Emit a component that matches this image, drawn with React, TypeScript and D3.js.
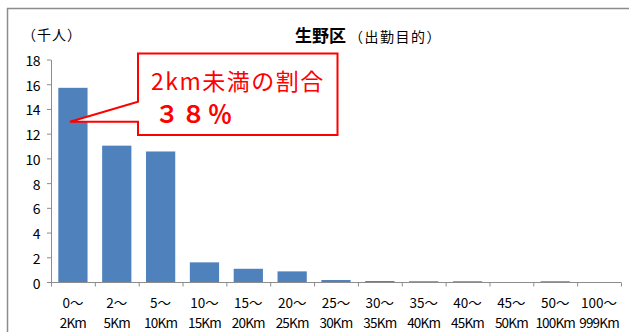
import React from "react";
import * as d3 from "d3";

const catLine1 = ["0～", "2～", "5～", "10～", "15～", "20～", "25～", "30～", "35～", "40～", "45～", "50～", "100～"];
const catLine2 = ["2Km", "5Km", "10Km", "15Km", "20Km", "25Km", "30Km", "35Km", "40Km", "45Km", "50Km", "100Km", "999Km"];
const values = [15.75, 11.07, 10.6, 1.63, 1.11, 0.9, 0.2, 0.12, 0.1, 0.1, 0, 0.1, 0];
const yTicks = [0, 2, 4, 6, 8, 10, 12, 14, 16, 18];

const W = 629;
const H = 332;
const FONT = "'Noto Sans CJK JP', 'Noto Sans', sans-serif";

export default function App() {
  const x = d3
    .scaleBand<number>()
    .domain(d3.range(values.length))
    .range([51, 621])
    .paddingInner(0.333)
    .paddingOuter(0.1665);
  const y = d3.scaleLinear().domain([0, 18]).range([282.5, 60]);
  const step = x.step();
  const x0 = 51;
  const axisColor = "#8c8c8c";

  const calloutPath = d3.path();
  calloutPath.moveTo(138, 53.5);
  calloutPath.lineTo(337.5, 53.5);
  calloutPath.lineTo(337.5, 135);
  calloutPath.lineTo(138, 135);
  calloutPath.lineTo(138, 121.7);
  calloutPath.lineTo(70, 121.7);
  calloutPath.lineTo(138, 101.7);
  calloutPath.closePath();

  return (
    <svg
      width={W}
      height={H}
      style={{ position: "absolute", left: 0, top: 0, background: "#fff" }}
      fontFamily={FONT}
    >
      <rect x={0} y={0} width={W} height={H} fill="#fff" />
      {/* frame */}
      <line x1={7} y1={8.5} x2={W} y2={8.5} stroke="#8c8c8c" strokeWidth={1.5} />
      <line x1={7.5} y1={8} x2={7.5} y2={H} stroke="#8c8c8c" strokeWidth={1.5} />

      {/* titles */}
      <text x={22} y={34} fontSize={14} dominantBaseline="central" fill="#000" letterSpacing={1}>（千人）</text>
      <text x={295} y={34} fontSize={17} fontWeight="bold" dominantBaseline="central" fill="#000">生野区</text>
      <text x={349} y={36} fontSize={14} dominantBaseline="central" fill="#000" letterSpacing={1.5}>（出勤目的）</text>

      {/* bars */}
      {values.map((v, i) => (
        <rect
          key={i}
          x={x(i)}
          y={y(v)}
          width={x.bandwidth()}
          height={y(0) - y(v)}
          fill="#4f81bd"
        />
      ))}

      {/* y axis */}
      <line x1={x0 + 0.5} y1={y(18)} x2={x0 + 0.5} y2={y(0)} stroke={axisColor} />
      {yTicks.map((t) => (
        <g key={t}>
          <line x1={x0 - 4} y1={y(t)} x2={x0} y2={y(t)} stroke={axisColor} />
          <text x={40} y={y(t)} fontSize={14} textAnchor="end" dominantBaseline="central" fill="#000" letterSpacing={-0.5}>
            {t}
          </text>
        </g>
      ))}

      {/* x axis */}
      <line x1={x0} y1={y(0)} x2={621} y2={y(0)} stroke={axisColor} />
      {d3.range(values.length + 1).map((i) => (
        <line key={i} x1={x0 + i * step + 0.5} y1={y(0)} x2={x0 + i * step + 0.5} y2={y(0) + 4} stroke={axisColor} />
      ))}
      {values.map((_, i) => (
        <g key={i}>
          <text x={(x(i) as number) + x.bandwidth() / 2} y={302} fontSize={13.5} textAnchor="middle" dominantBaseline="central" fill="#000">
            {catLine1[i]}
          </text>
          <text x={(x(i) as number) + x.bandwidth() / 2} y={322} fontSize={13.5} textAnchor="middle" dominantBaseline="central" fill="#000" letterSpacing={-0.8}>
            {catLine2[i]}
          </text>
        </g>
      ))}

      {/* callout */}
      <path d={calloutPath.toString()} fill="#fff" stroke="#ff0000" strokeWidth={2} />
      <text x={151} y={80} fontSize={23} fill="#ff0000" dominantBaseline="central" letterSpacing={1.5}>
        2km未満の割合
      </text>
      <text x={155} y={112} fontSize={24} fontWeight="bold" fill="#ff0000" dominantBaseline="central" letterSpacing={2.5}>
        ３８％
      </text>
    </svg>
  );
}
